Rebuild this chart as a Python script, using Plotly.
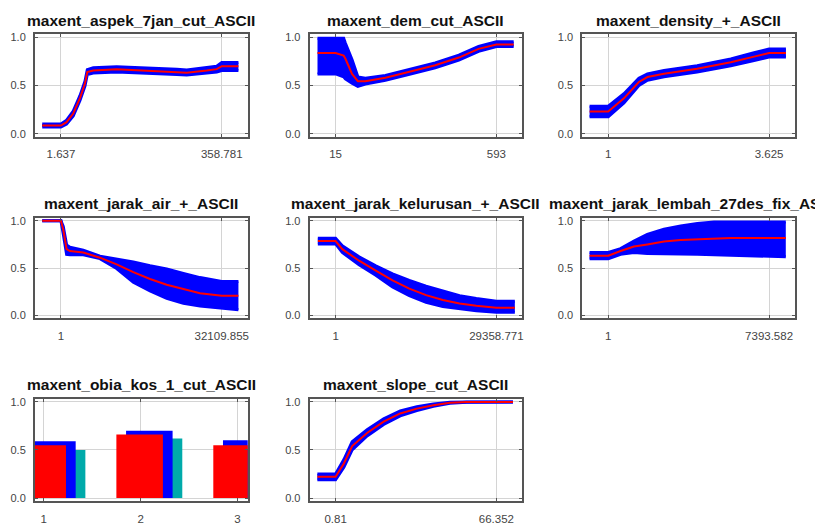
import plotly.graph_objects as go

# The page body has an 8px margin, so the figure is drawn 8px smaller and
# all pixel positions below are given in window pixels and shifted by OFF.
OFF = 8
W, H = 823 - OFF, 525 - OFF
FONT = "Liberation Sans, Arial, sans-serif"

# ---------------- data ----------------
titles = [
    "maxent_aspek_7jan_cut_ASCII",
    "maxent_dem_cut_ASCII",
    "maxent_density_+_ASCII",
    "maxent_jarak_air_+_ASCII",
    "maxent_jarak_kelurusan_+_ASCII",
    "maxent_jarak_lembah_27des_fix_ASCII",
    "maxent_obia_kos_1_cut_ASCII",
    "maxent_slope_cut_ASCII",
]

tick_min = [1.637, 15, 1, 1, 1, 1, None, 0.81]
tick_max = [358.781, 593, 3.625, 32109.855, 29358.771, 7393.582, None, 66.352]
tick_min_text = ["1.637", "15", "1", "1", "1", "1", None, "0.81"]
tick_max_text = ["358.781", "593", "3.625", "32109.855", "29358.771", "7393.582", None, "66.352"]

aspek_x = [-39.9, 1.637, 14.2, 29.0, 43.9, 55.0, 60.2, 73.5, 125.4, 199.5, 258.8, 281.0, 325.4, 347.7, 358.781, 395.8]
aspek_mean = [0.085, 0.085, 0.12, 0.21, 0.37, 0.52, 0.64, 0.656, 0.67, 0.656, 0.64, 0.633, 0.656, 0.67, 0.70, 0.70]
aspek_lo = [0.07, 0.07, 0.10, 0.185, 0.345, 0.495, 0.615, 0.63, 0.64, 0.63, 0.615, 0.61, 0.63, 0.64, 0.655, 0.655]
aspek_hi = [0.10, 0.10, 0.14, 0.235, 0.395, 0.545, 0.665, 0.685, 0.695, 0.685, 0.67, 0.66, 0.685, 0.70, 0.74, 0.74]

dem_x = [-50, 15, 44, 50, 74, 95, 122, 194, 277, 373, 458, 529, 593, 655]
dem_mean = [0.837, 0.837, 0.81, 0.78, 0.62, 0.545, 0.545, 0.58, 0.64, 0.71, 0.79, 0.88, 0.925, 0.925]
dem_lo = [0.62, 0.62, 0.59, 0.57, 0.525, 0.49, 0.515, 0.555, 0.615, 0.685, 0.765, 0.855, 0.905, 0.905]
dem_hi = [0.99, 0.99, 0.99, 0.94, 0.77, 0.59, 0.575, 0.605, 0.665, 0.735, 0.815, 0.905, 0.955, 0.955]

density_x = [0.695, 1, 1.256, 1.50, 1.64, 1.91, 2.45, 3.00, 3.38, 3.625, 3.90]
density_mean = [0.231, 0.231, 0.367, 0.537, 0.588, 0.622, 0.673, 0.741, 0.80, 0.837, 0.837]
density_lo = [0.175, 0.175, 0.32, 0.50, 0.555, 0.59, 0.64, 0.705, 0.76, 0.795, 0.795]
density_hi = [0.285, 0.285, 0.415, 0.575, 0.62, 0.655, 0.705, 0.775, 0.84, 0.88, 0.88]

air_x = [-3730, 1, 467, 1133, 1800, 4464, 7795, 11125, 14456, 17786, 21117, 24447, 27778, 32109.855, 35441]
air_mean = [1.0, 1.0, 0.906, 0.70, 0.68, 0.664, 0.61, 0.54, 0.457, 0.385, 0.325, 0.277, 0.235, 0.208, 0.208]
air_lo = [1.0, 1.0, 0.86, 0.645, 0.64, 0.64, 0.60, 0.495, 0.35, 0.26, 0.18, 0.13, 0.10, 0.075, 0.06]
air_hi = [1.0, 1.0, 0.94, 0.745, 0.72, 0.69, 0.625, 0.595, 0.565, 0.525, 0.49, 0.445, 0.40, 0.36, 0.36]

kel_x = [-3241, 1, 1224, 4283, 7340, 10398, 13457, 16515, 19572, 22630, 25689, 29358.771, 32722]
kel_mean = [0.785, 0.785, 0.70, 0.578, 0.474, 0.37, 0.284, 0.215, 0.163, 0.128, 0.104, 0.083, 0.083]
kel_lo = [0.755, 0.755, 0.665, 0.535, 0.425, 0.30, 0.21, 0.14, 0.095, 0.07, 0.05, 0.035, 0.035]
kel_hi = [0.815, 0.815, 0.735, 0.62, 0.525, 0.44, 0.37, 0.31, 0.26, 0.21, 0.18, 0.15, 0.15]

lembah_x = [-858, 1, 568, 1182, 1795, 2562, 3329, 4096, 4863, 5630, 6396, 7393.582, 8162]
lembah_mean = [0.63, 0.63, 0.68, 0.727, 0.75, 0.78, 0.796, 0.803, 0.813, 0.817, 0.817, 0.817, 0.817]
lembah_lo = [0.60, 0.60, 0.645, 0.665, 0.655, 0.655, 0.65, 0.645, 0.64, 0.63, 0.625, 0.62, 0.62]
lembah_hi = [0.665, 0.665, 0.705, 0.785, 0.855, 0.91, 0.945, 0.97, 0.985, 0.985, 0.985, 0.985, 0.985]

obia_cats = [1, 2, 3]
obia_mean = [0.55, 0.66, 0.55]
obia_plus_sd = [0.59, 0.70, 0.60]
obia_minus_sd = [0.50, 0.62, 0.50]

slope_x = [-6.62, 0.81, 4.19, 7.57, 13.65, 20.40, 27.16, 33.92, 40.68, 47.43, 54.19, 66.352, 73.1]
slope_mean = [0.22, 0.22, 0.36, 0.54, 0.676, 0.795, 0.88, 0.93, 0.966, 0.99, 1.0, 1.0, 1.0]
slope_lo = [0.19, 0.19, 0.32, 0.50, 0.645, 0.765, 0.855, 0.91, 0.955, 0.985, 0.997, 1.0, 1.0]
slope_hi = [0.25, 0.25, 0.40, 0.585, 0.71, 0.825, 0.905, 0.95, 0.978, 0.995, 1.0, 1.0, 1.0]

curves = [
    (aspek_x, aspek_mean, aspek_lo, aspek_hi),
    (dem_x, dem_mean, dem_lo, dem_hi),
    (density_x, density_mean, density_lo, density_hi),
    (air_x, air_mean, air_lo, air_hi),
    (kel_x, kel_mean, kel_lo, kel_hi),
    (lembah_x, lembah_mean, lembah_lo, lembah_hi),
    None,
    (slope_x, slope_mean, slope_lo, slope_hi),
]

# ---------------- layout geometry (window pixels) ----------------
col_px = [(35, 248), (310, 523), (583, 796)]
row_px = [(31.8, 135.6), (218.1, 320.2), (402.1, 505.6)]
title_shift = [0, 0, 0, 0, 0, 6, 0, 0]
PAD = 0.1614

BLUE = "#0000FF"
RED = "#FF0000"
TEAL = "#00AAAA"
FRAME = "#555555"
GRID = "#d4d4d4"


def fx(px):
    return (px - OFF) / W


def fy(px):
    return 1 - (px - OFF) / H


fig = go.Figure()
layout = dict(
    width=W, height=H,
    margin=dict(l=0, r=0, t=0, b=0),
    paper_bgcolor="white", plot_bgcolor="white",
    showlegend=False, barmode="overlay",
    font=dict(family=FONT, size=11, color="#444444"),
    annotations=[],
)

for i, title in enumerate(titles):
    r, c = divmod(i, 3)
    n = i + 1
    xs = "x" if n == 1 else f"x{n}"
    ys = "y" if n == 1 else f"y{n}"
    xk = "xaxis" if n == 1 else f"xaxis{n}"
    yk = "yaxis" if n == 1 else f"yaxis{n}"
    x0, x1 = col_px[c]
    t0, t1 = row_px[r]
    xdom = [fx(x0), fx(x1)]
    ydom = [fy(t1), fy(t0)]

    if curves[i] is not None:
        cx, cm, clo, chi = curves[i]
        a, b = tick_min[i], tick_max[i]
        span = b - a
        xrange = [a - PAD * span, b + PAD * span]
        tickvals = [a, b]
        ticktext = [tick_min_text[i], tick_max_text[i]]
        fig.add_trace(go.Scatter(x=cx, y=clo, mode="lines", line=dict(color=BLUE, width=3),
                                 xaxis=xs, yaxis=ys, hoverinfo="skip"))
        fig.add_trace(go.Scatter(x=cx, y=chi, mode="lines", line=dict(color=BLUE, width=3),
                                 fill="tonexty", fillcolor=BLUE, xaxis=xs, yaxis=ys, hoverinfo="skip"))
        fig.add_trace(go.Scatter(x=cx, y=cm, mode="lines", line=dict(color=RED, width=2),
                                 xaxis=xs, yaxis=ys))
    else:
        xrange = [0.91, 3.105]
        tickvals = obia_cats
        ticktext = [str(v) for v in obia_cats]
        for vals, col, off in [(obia_minus_sd, TEAL, -0.05), (obia_plus_sd, BLUE, -0.15), (obia_mean, RED, -0.25)]:
            fig.add_trace(go.Bar(x=obia_cats, y=vals, width=0.48, offset=off,
                                 marker=dict(color=col, line=dict(width=0)),
                                 xaxis=xs, yaxis=ys))

    layout[xk] = dict(
        domain=xdom, anchor=ys, range=xrange, tickvals=tickvals, ticktext=ticktext,
        showgrid=True, gridcolor=GRID, gridwidth=1, zeroline=False,
        showline=True, linecolor=FRAME, linewidth=2, mirror="ticks",
        ticks="inside", ticklen=3, tickcolor=FRAME, tickwidth=1,
        tickfont=dict(family=FONT, size=11.5, color="#444444"), ticklabelstandoff=6,
        fixedrange=True,
    )
    layout[yk] = dict(
        domain=ydom, anchor=xs, range=[-0.03, 1.03], tickvals=[0, 0.5, 1.0],
        ticktext=["0.0", "0.5", "1.0"],
        showgrid=True, gridcolor=GRID, gridwidth=1, zeroline=False,
        showline=True, linecolor=FRAME, linewidth=2, mirror="ticks",
        ticks="inside", ticklen=3, tickcolor=FRAME, tickwidth=1,
        tickfont=dict(family=FONT, size=11, color="#444444"), ticklabelstandoff=5,
        fixedrange=True,
    )
    layout["annotations"].append(dict(
        text=title, xref="paper", yref="paper",
        x=fx((x0 + x1) / 2 + title_shift[i]), y=fy(t0 - 14.5),
        xanchor="center", yanchor="middle", showarrow=False,
        font=dict(family=FONT, size=15.5, color="#111111", weight="bold"),
    ))

fig.update_layout(**layout)
fig.write_html("out.html")
